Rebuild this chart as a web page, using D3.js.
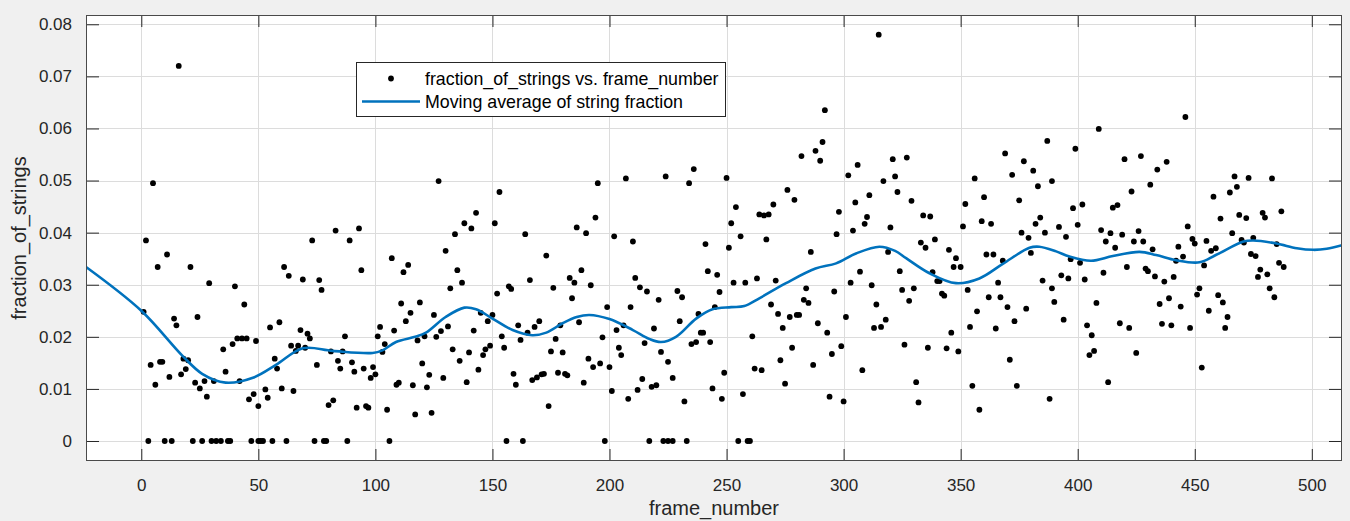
<!DOCTYPE html>
<meta charset="utf-8">
<script src="https://d3js.org/d3.v7.min.js"></script>
<style>
body { margin: 0; background: #f0f0f0; }
svg { display: block; font-family: "Liberation Sans", Arial, sans-serif; }
</style>
<body>
<script>

// scatter: frame number and fraction of strings
const frameNumber = [
  16, 5, 2, 11, 7, 21, 29, 40, 44, 1, 14, 15, 24, 35, 39, 41, 43, 45, 49, 4, 8, 9, 6, 12, 17, 18, 20, 19, 23, 25, 27, 28, 31, 36, 42, 46, 48,
  3, 10, 13, 22, 26, 30, 32, 34, 37, 38, 47,
  83, 93, 73, 89, 61, 63, 69, 76, 77, 94, 107, 114, 112, 111, 115, 113, 59, 55, 68, 71, 72, 87, 102, 101, 108, 104, 64, 67, 70, 66, 81, 86, 103,
  57, 58, 75, 84, 85, 90, 91, 95, 99, 98, 100, 110, 109, 116, 60, 65, 53, 54, 50, 80, 82, 92, 96, 97, 105, 117,
  50, 51, 52, 56, 62, 74, 78, 79, 88, 106,
  127, 153, 143, 138, 141, 151, 134, 164, 186, 130, 173, 135, 137, 132, 166, 176, 183, 185, 184, 152, 157, 158, 119, 125, 145, 148, 150, 131,
  128, 126, 121, 118, 142, 161, 165, 168, 170, 179, 154, 162, 177, 155, 133, 140, 146, 147, 149, 136, 120, 144, 175, 180, 123, 129, 139, 159,
  160, 167, 169, 171, 172, 178, 181, 182, 122, 174, 124, 156, 163,
  195, 207, 224, 236, 234, 250, 254, 252, 251, 253, 194, 190, 202, 210, 241, 188, 192, 211, 213, 216, 221, 229, 231, 242, 246, 247, 199, 209,
  245, 238, 187, 206, 230, 203, 219, 239, 240, 197, 215, 235, 237, 243, 204, 205, 222, 225, 191, 193, 196, 200, 189, 214, 218, 220, 227, 212,
  201, 244, 249, 208, 232, 248, 198, 217, 223, 225, 227, 233,
  315, 292, 291, 288, 290, 282, 321, 322, 306, 302, 317, 276, 279, 270, 264, 266, 268, 305, 311, 298, 310, 309, 320, 256, 267, 297, 304, 286,
  319, 307, 258, 263, 271, 284, 296, 303, 312, 269, 283, 285, 314, 272, 277, 280, 281, 301, 289, 274, 293, 313, 316, 318, 261, 278, 299, 295,
  273, 287, 262, 265, 308, 275, 257, 294, 300, 255, 259, 260,
  387, 369, 377, 381, 327, 372, 356, 389, 383, 323, 329, 352, 360, 375, 334, 337, 384, 382, 351, 359, 363, 376, 386, 379, 339, 333, 335, 345,
  348, 361, 364, 380, 368, 347, 350, 324, 338, 340, 341, 366, 385, 325, 330, 353, 342, 343, 389, 328, 362, 367, 390, 370, 378, 357, 373, 354,
  365, 346, 326, 336, 344, 349, 371, 331, 355, 374, 332, 358, 388,
  446, 409, 399, 420, 427, 438, 434, 431, 423, 458, 398, 402, 415, 417, 400, 392, 395, 410, 414, 419, 426, 412, 416, 424, 428, 432, 447, 449,
  450, 455, 443, 445, 442, 457, 459, 397, 401, 421, 429, 430, 433, 441, 437, 393, 396, 403, 411, 454, 452, 451, 408, 435, 439, 444, 456, 394,
  404, 418, 422, 436, 440, 448, 406, 407, 405, 425, 453, 413,
  467, 473, 483, 468, 465, 487, 469, 472, 479, 480, 461, 466, 470, 471, 475, 485, 474, 476, 486, 488, 478, 477, 481, 482, 484, 460, 462, 464, 463
];
const fractionOfStrings = [
  0.0720, 0.0495, 0.0385, 0.0358, 0.0334, 0.0334, 0.0303, 0.0297, 0.0262, 0.0248, 0.0235, 0.0222, 0.0238, 0.0176, 0.0186, 0.0197, 0.0197, 0.0197, 0.0192, 0.0146, 0.0152, 0.0152, 0.0108, 0.0123, 0.0128, 0.0158, 0.0155, 0.0138, 0.0112, 0.0101, 0.0115, 0.0085, 0.0115, 0.0133, 0.0115, 0.0080, 0.0090,
  0, 0, 0, 0, 0, 0, 0, 0, 0, 0, 0,
  0.0404, 0.0408, 0.0385, 0.0385, 0.0334, 0.0317, 0.0310, 0.0309, 0.0290, 0.0328, 0.0351, 0.0338, 0.0324, 0.0264, 0.0246, 0.0230, 0.0228, 0.0218, 0.0213, 0.0206, 0.0197, 0.0201, 0.0219, 0.0201, 0.0212, 0.0186, 0.0183, 0.0183, 0.0179, 0.0173, 0.0172, 0.0172, 0.0171,
  0.0158, 0.0139, 0.0146, 0.0154, 0.0139, 0.0151, 0.0133, 0.0139, 0.0142, 0.0121, 0.0128, 0.0112, 0.0108, 0.0107, 0.0101, 0.0096, 0.0099, 0.0083, 0.0067, 0.0069, 0.0078, 0.0064, 0.0067, 0.0064, 0.0060, 0.0051,
  0, 0, 0, 0, 0, 0, 0, 0, 0, 0,
  0.0499, 0.0478, 0.0438, 0.0418, 0.0408, 0.0418, 0.0397, 0.0397, 0.0410, 0.0365, 0.0356, 0.0328, 0.0304, 0.0293, 0.0309, 0.0294, 0.0313, 0.0304, 0.0274, 0.0283, 0.0297, 0.0292, 0.0266, 0.0242, 0.0246, 0.0230, 0.0242, 0.0220,
  0.0211, 0.0200, 0.0201, 0.0193, 0.0212, 0.0222, 0.0208, 0.0219, 0.0230, 0.0222, 0.0201, 0.0194, 0.0196, 0.0179, 0.0176, 0.0170, 0.0165, 0.0176, 0.0183, 0.0154, 0.0149, 0.0137, 0.0172, 0.0170, 0.0127, 0.0121, 0.0113, 0.0129,
  0.0108, 0.0117, 0.0122, 0.0128, 0.0129, 0.0131, 0.0129, 0.0126, 0.0103, 0.0067, 0.0054, 0, 0,
  0.0495, 0.0504, 0.0508, 0.0522, 0.0495, 0.0505, 0.0449, 0.0418, 0.0371, 0.0304, 0.0429, 0.0399, 0.0393, 0.0383, 0.0378, 0.0328, 0.0299, 0.0313, 0.0295, 0.0287, 0.0271, 0.0288, 0.0276, 0.0326, 0.0319, 0.0286, 0.0257, 0.0257,
  0.0257, 0.0244, 0.0228, 0.0222, 0.0230, 0.0213, 0.0216, 0.0208, 0.0208, 0.0199, 0.0188, 0.0186, 0.0190, 0.0190, 0.0179, 0.0165, 0.0171, 0.0152, 0.0158, 0.0142, 0.0149, 0.0142, 0.0112, 0.0119, 0.0104, 0.0107, 0.0121, 0.0098,
  0.0096, 0.0101, 0.0131, 0.0081, 0.0076, 0.0081, 0, 0, 0, 0, 0, 0,
  0.0780, 0.0635, 0.0574, 0.0557, 0.0538, 0.0547, 0.0541, 0.0508, 0.0530, 0.0510, 0.0499, 0.0482, 0.0463, 0.0454, 0.0435, 0.0433, 0.0435, 0.0458, 0.0472, 0.0440, 0.0430, 0.0417, 0.0410, 0.0393, 0.0387, 0.0397, 0.0404, 0.0363,
  0.0363, 0.0325, 0.0304, 0.0312, 0.0308, 0.0293, 0.0287, 0.0304, 0.0299, 0.0262, 0.0271, 0.0265, 0.0262, 0.0244, 0.0238, 0.0242, 0.0242, 0.0238, 0.0226, 0.0217, 0.0208, 0.0217, 0.0219, 0.0233, 0.0201, 0.0179, 0.0182, 0.0167,
  0.0155, 0.0146, 0.0139, 0.0136, 0.0136, 0.0110, 0.0090, 0.0085, 0.0076, 0, 0, 0,
  0.0576, 0.0552, 0.0537, 0.0519, 0.0544, 0.0511, 0.0504, 0.0499, 0.0489, 0.0478, 0.0461, 0.0455, 0.0468, 0.0462, 0.0433, 0.0431, 0.0429, 0.0417, 0.0412, 0.0422, 0.0417, 0.0400, 0.0400, 0.0390, 0.0387, 0.0381, 0.0371, 0.0367,
  0.0351, 0.0358, 0.0358, 0.0361, 0.0346, 0.0334, 0.0334, 0.0326, 0.0324, 0.0307, 0.0307, 0.0304, 0.0308, 0.0290, 0.0293, 0.0290, 0.0283, 0.0279, 0.0293, 0.0269, 0.0276, 0.0276, 0.0267, 0.0257, 0.0254, 0.0249, 0.0230, 0.0219,
  0.0216, 0.0208, 0.0185, 0.0179, 0.0178, 0.0172, 0.0156, 0.0113, 0.0106, 0.0106, 0.0074, 0.0060, 0.0081,
  0.0622, 0.0599, 0.0561, 0.0541, 0.0547, 0.0536, 0.0521, 0.0492, 0.0479, 0.0469, 0.0447, 0.0454, 0.0448, 0.0453, 0.0415, 0.0411, 0.0392, 0.0405, 0.0399, 0.0396, 0.0403, 0.0383, 0.0371, 0.0383, 0.0383, 0.0368, 0.0412, 0.0388,
  0.0379, 0.0384, 0.0373, 0.0354, 0.0346, 0.0365, 0.0370, 0.0349, 0.0342, 0.0334, 0.0331, 0.0326, 0.0316, 0.0315, 0.0306, 0.0318, 0.0312, 0.0310, 0.0323, 0.0337, 0.0293, 0.0281, 0.0265, 0.0263, 0.0274, 0.0258, 0.0250, 0.0233,
  0.0222, 0.0226, 0.0217, 0.0225, 0.0222, 0.0217, 0.0203, 0.0173, 0.0165, 0.0169, 0.0141, 0.0113,
  0.0508, 0.0505, 0.0504, 0.0488, 0.0477, 0.0441, 0.0434, 0.0428, 0.0438, 0.0429, 0.0427, 0.0399, 0.0386, 0.0381, 0.0390, 0.0378, 0.0359, 0.0355, 0.0342, 0.0334, 0.0329, 0.0315, 0.0320, 0.0293, 0.0276, 0.0280, 0.0266, 0.0238, 0.0217
];

// moving average curve
const avgFrame = [-23.6, 0, 17.7, 26, 36, 48, 57.5, 69, 81.8, 98.8, 103, 108.8, 117, 121.6, 130, 138, 143, 150, 158.6, 167, 173, 180, 186, 191.4,
  200, 210, 217, 222, 228.4, 237, 244, 252, 257.6, 264, 275.4, 288, 296.8, 305.3, 315.3, 322, 326.7, 336.7, 348, 358, 368, 379.4, 383.6, 390.8,
  396.5, 405.7, 415, 426.4, 433.5, 442, 452, 459, 470.8, 475, 485, 493.6, 500.7, 506.4, 512.9];
const avgFraction = [0.0334, 0.0250, 0.0163, 0.0129, 0.0112, 0.0122, 0.0146, 0.0178, 0.0173, 0.0169, 0.0174, 0.0190, 0.0200, 0.0208, 0.0238, 0.0256, 0.0253, 0.0235,
  0.0213, 0.0203, 0.0208, 0.0226, 0.0238, 0.0242, 0.0234, 0.0213, 0.0196, 0.0190, 0.0200, 0.0235, 0.0253, 0.0257, 0.0259, 0.0274, 0.0303, 0.0331,
  0.0341, 0.0360, 0.0373, 0.0365, 0.0351, 0.0322, 0.0303, 0.0312, 0.0340, 0.0371, 0.0373, 0.0364, 0.0354, 0.0346, 0.0355, 0.0363, 0.0357, 0.0347,
  0.0343, 0.0357, 0.0383, 0.0385, 0.0379, 0.0370, 0.0367, 0.0369, 0.0376];

const xTicks = [0, 50, 100, 150, 200, 250, 300, 350, 400, 450, 500];
const yTicks = [0, 0.01, 0.02, 0.03, 0.04, 0.05, 0.06, 0.07, 0.08];
const legendLabels = ["fraction_of_strings vs. frame_number", "Moving average of string fraction"];

var width = 1350,
    height = 521;
// plot box edges (not "top": that name is taken by window.top)
var boxL = 86, boxR = 1342, boxT = 15, boxB = 461;

var x = d3.scaleLinear().domain([-23.62, 512.9]).range([boxL, boxR]);
var y = d3.scaleLinear().domain([-0.00384, 0.08178]).range([boxB, boxT]);

var svg = d3.select("body").append("svg")
    .attr("width", width)
    .attr("height", height);

svg.append("rect")
    .attr("x", boxL).attr("y", boxT)
    .attr("width", boxR - boxL).attr("height", boxB - boxT)
    .attr("fill", "#fff");

// grid
svg.append("g").selectAll("line")
    .data(xTicks).enter().append("line")
    .attr("x1", d => Math.round(x(d)) + 0.5).attr("x2", d => Math.round(x(d)) + 0.5)
    .attr("y1", boxT).attr("y2", boxB)
    .attr("stroke", "#dcdcdc");
svg.append("g").selectAll("line")
    .data(yTicks).enter().append("line")
    .attr("y1", d => Math.round(y(d)) + 0.5).attr("y2", d => Math.round(y(d)) + 0.5)
    .attr("x1", boxL).attr("x2", boxR)
    .attr("stroke", "#dcdcdc");

svg.append("clipPath").attr("id", "plotclip")
  .append("rect").attr("x", boxL).attr("y", boxT).attr("width", boxR - boxL).attr("height", boxB - boxT);

var plot = svg.append("g").attr("clip-path", "url(#plotclip)");

plot.selectAll("circle")
    .data(frameNumber).enter().append("circle")
    .attr("cx", (d, i) => x(d))
    .attr("cy", (d, i) => y(fractionOfStrings[i]))
    .attr("r", 2.9)
    .attr("fill", "#000");

var line = d3.line()
    .x((d, i) => x(d))
    .y((d, i) => y(avgFraction[i]))
    .curve(d3.curveCatmullRom.alpha(0.5));

plot.append("path")
    .attr("d", line(avgFrame))
    .attr("fill", "none")
    .attr("stroke", "#0072BD")
    .attr("stroke-width", 2.6);

// axes, ticks inward on all four sides
function styleAxis(g) {
  g.selectAll(".domain").remove();
  g.selectAll(".tick line").attr("stroke", "#262626");
  g.selectAll(".tick text").attr("fill", "#262626").style("font-size", "17px").style("font-family", "Liberation Sans, Arial, sans-serif");
}

svg.append("g")
    .attr("transform", "translate(0," + boxB + ")")
    .call(d3.axisBottom(x).tickValues(xTicks).tickSize(-12).tickPadding(18).tickFormat(d3.format("d")))
    .call(styleAxis);
svg.append("g")
    .attr("transform", "translate(0," + boxT + ")")
    .call(d3.axisTop(x).tickValues(xTicks).tickSize(-12).tickFormat(""))
    .call(styleAxis);
svg.append("g")
    .attr("transform", "translate(" + boxL + ",0)")
    .call(d3.axisLeft(y).tickValues(yTicks).tickSize(-13).tickPadding(14).tickFormat(d => d === 0 ? "0" : d3.format(".2f")(d)))
    .call(styleAxis);
svg.append("g")
    .attr("transform", "translate(" + boxR + ",0)")
    .call(d3.axisRight(y).tickValues(yTicks).tickSize(-13).tickFormat(""))
    .call(styleAxis);

svg.append("rect")
    .attr("x", boxL + 0.5).attr("y", boxT + 0.5)
    .attr("width", boxR - boxL - 1).attr("height", boxB - boxT - 1)
    .attr("fill", "none")
    .attr("stroke", "#4a4a4a");

// axis labels
svg.append("text")
    .attr("x", 714).attr("y", 515)
    .attr("text-anchor", "middle")
    .attr("fill", "#262626")
    .style("font-size", "20px")
    .text("frame_number");

svg.append("text")
    .attr("transform", "translate(26," + (boxT + boxB) / 2 + ") rotate(-90)")
    .attr("text-anchor", "middle")
    .attr("fill", "#262626")
    .style("font-size", "20px")
    .text("fraction_of_strings");

// legend
var lg = svg.append("g");
lg.append("rect")
    .attr("x", 356.5).attr("y", 62.5).attr("width", 369).attr("height", 54)
    .attr("fill", "#fff").attr("stroke", "#262626").attr("stroke-width", 1);
lg.append("circle").attr("cx", 391).attr("cy", 78.5).attr("r", 2.9).attr("fill", "#000");
lg.append("line").attr("x1", 362).attr("x2", 420).attr("y1", 101.5).attr("y2", 101.5)
    .attr("stroke", "#0072BD").attr("stroke-width", 2.6);
lg.selectAll("text.lab")
    .data(legendLabels).enter().append("text")
    .attr("class", "lab")
    .attr("x", 425)
    .attr("y", (d, i) => 84.5 + i * 23)
    .attr("fill", "#000")
    .style("font-size", "17.8px")
    .text(d => d);

</script>
</body>
